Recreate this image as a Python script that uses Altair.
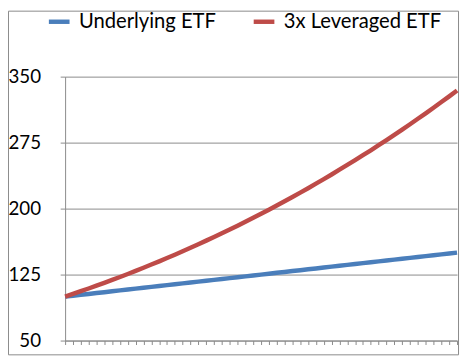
import altair as alt
import pandas as pd

steps = list(range(51))
underlying = [100, 101, 102, 103, 104, 105, 106, 107, 108, 109,
              110, 111, 112, 113, 114, 115, 116, 117, 118, 119,
              120, 121, 122, 123, 124, 125, 126, 127, 128, 129,
              130, 131, 132, 133, 134, 135, 136, 137, 138, 139,
              140, 141, 142, 143, 144, 145, 146, 147, 148, 149, 150]
leveraged = [100.0, 103.0, 106.1, 109.2, 112.4, 115.6, 118.9, 122.3, 125.7, 129.2,
             132.7, 136.4, 140.0, 143.8, 147.6, 151.5, 155.5, 159.5, 163.6, 167.7,
             172.0, 176.2, 180.6, 185.1, 189.6, 194.2, 198.8, 203.6, 208.4, 213.2,
             218.2, 223.2, 228.4, 233.5, 238.8, 244.2, 249.6, 255.1, 260.7, 266.3,
             272.1, 277.9, 283.8, 289.8, 295.9, 302.1, 308.3, 314.7, 321.1, 327.6, 334.2]
series_names = ["Underlying ETF", "3x Leveraged ETF"]
series_colors = ["#4A7EBB", "#BE4B48"]
y_ticks = [50, 125, 200, 275, 350]

rows = []
for s, vals in zip(series_names, [underlying, leveraged]):
    for i, v in zip(steps, vals):
        rows.append({"step": i, "value": v, "series": s, "ord": series_names.index(s)})
df = pd.DataFrame(rows)

FONT = "Lato"
GRAY = "#8a8a8a"

lines = alt.Chart(df).mark_line(strokeWidth=4.5).encode(
    x=alt.X("step:Q", scale=alt.Scale(domain=[0, 50], nice=False, zero=False),
            axis=alt.Axis(values=steps, labels=False, title=None, grid=False,
                          tickSize=4, tickColor=GRAY, domainColor=GRAY)),
    y=alt.Y("value:Q", scale=alt.Scale(domain=[50, 350], nice=False, zero=False),
            axis=alt.Axis(values=y_ticks, title=None, grid=True, gridColor=GRAY,
                          tickSize=5, tickColor=GRAY, domainColor=GRAY,
                          labelPadding=20, labelFontSize=19, labelFont=FONT,
                          labelColor="black")),
    color=alt.Color("series:N",
                    scale=alt.Scale(domain=series_names, range=series_colors),
                    legend=alt.Legend(title=None, orient="none", direction="horizontal",
                                      legendX=-19, legendY=-69,
                                      symbolType="stroke", symbolSize=441,
                                      symbolStrokeWidth=4.5, labelFontSize=20.5,
                                      labelFont=FONT, labelColor="black",
                                      labelOffset=7, columnPadding=28, padding=0)),
    order=alt.Order("ord:Q"),
    detail="series:N",
)

frame = alt.Chart(alt.InlineData(values=[{"a": 1}])).mark_rect(
    filled=False, stroke=GRAY, strokeWidth=1
).encode(
    x=alt.value(-57.5), x2=alt.value(399.5), y=alt.value(-66.5), y2=alt.value(282.5)
)

chart = alt.layer(frame, lines).properties(
    width=398, height=268,
    padding={"left": 58, "top": 67, "right": 3, "bottom": 15},
    autosize=alt.AutoSizeParams(type="none"),
).configure_view(stroke=None).configure_axis(domainWidth=1, gridWidth=1, tickWidth=1)

chart.save("out.html", embed_options={"renderer": "svg", "actions": False})
